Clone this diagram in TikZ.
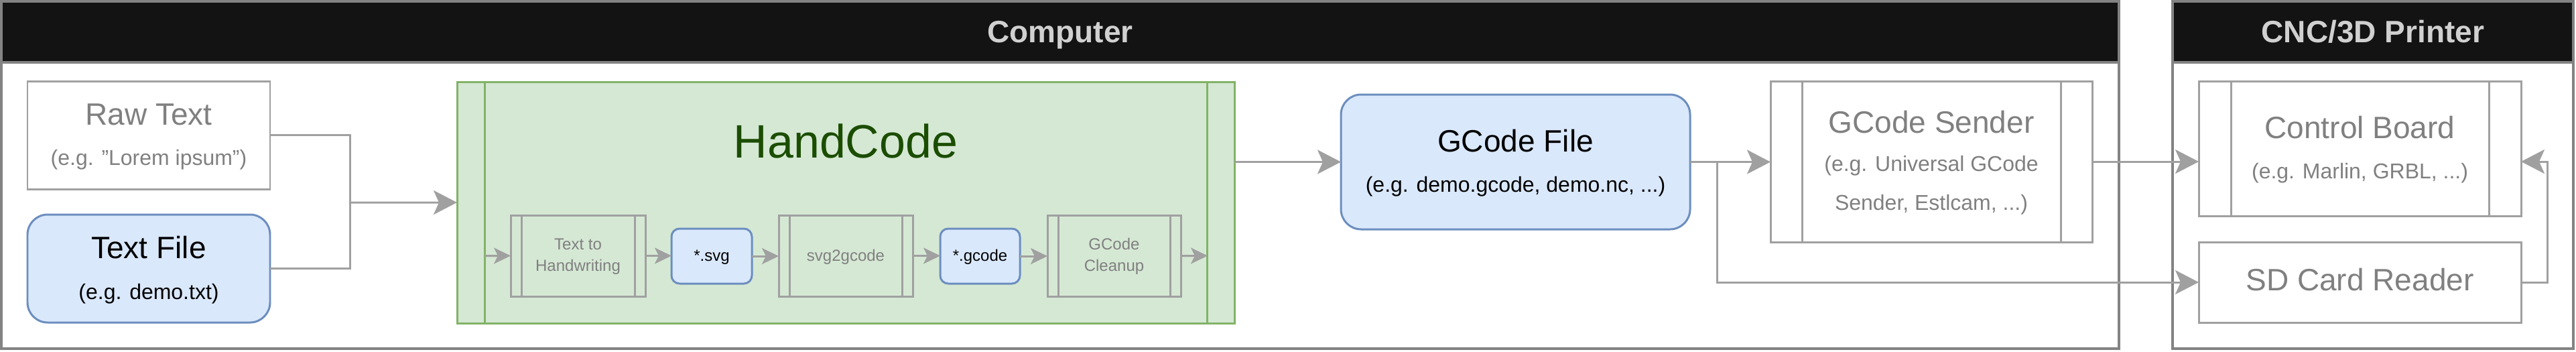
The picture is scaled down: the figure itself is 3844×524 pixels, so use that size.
\documentclass[tikz,border=0pt]{standalone}
\usepackage{fontspec}
\setmainfont{Liberation Sans}
\usetikzlibrary{arrows.meta,calc}
\definecolor{boxgray}{HTML}{A0A0A0}
\definecolor{txtgray}{HTML}{808080}
\definecolor{framegray}{HTML}{838383}
\definecolor{hdrfill}{HTML}{131313}
\definecolor{hdrtext}{HTML}{D0D0D0}
\definecolor{bfill}{HTML}{DAE8FC}
\definecolor{bstroke}{HTML}{6C8EBF}
\definecolor{gfill}{HTML}{D5E8D4}
\definecolor{gstroke}{HTML}{82B366}
\definecolor{hgreen}{HTML}{1B4D00}
\newcommand\fsBig{\fontsize{13.1pt}{15.7pt}\selectfont}
\newcommand\fsSub{\fontsize{9.1pt}{11pt}\selectfont}
\newcommand\fsHand{\fontsize{19.9pt}{23pt}\selectfont}
\newcommand\fsSmall{\fontsize{6.83pt}{8.5pt}\selectfont}
\newcommand\procbars[2]{%
  \draw[boxline] ([xshift=#2]#1.north west) -- ([xshift=#2]#1.south west);
  \draw[boxline] ([xshift=-#2]#1.north east) -- ([xshift=-#2]#1.south east);}
\begin{document}
\begin{tikzpicture}[x=0.1mm,y=-0.1mm,
  frame/.style={draw=framegray, line width=1.14pt, fill=white, inner sep=0pt, outer sep=0pt, anchor=north west},
  header/.style={draw=framegray, line width=1.14pt, fill=hdrfill, inner sep=0pt, outer sep=0pt, anchor=north west},
  hdrtxt/.style={text=hdrtext, font=\fsBig\bfseries, inner sep=0pt, anchor=base},
  boxline/.style={draw=boxgray, line width=0.85pt},
  gbox/.style={boxline, fill=white, inner sep=0pt, outer sep=0pt, anchor=north west},
  pbox/.style={boxline, inner sep=0pt, outer sep=0pt, anchor=north west},
  bbox/.style={draw=bstroke, fill=bfill, line width=0.85pt, inner sep=0pt, outer sep=0pt, anchor=north west},
  hbox/.style={draw=gstroke, fill=gfill, line width=0.85pt, inner sep=0pt, outer sep=0pt, anchor=north west},
  tbig/.style={font=\fsBig, inner sep=0pt, anchor=base},
  tsub/.style={font=\fsSub, inner sep=0pt, anchor=base},
  tsmall/.style={font=\fsSmall, inner sep=0pt, anchor=base},
  conn/.style={draw=boxgray, line width=0.85pt},
  arr/.style={conn, -{Stealth[length=3.5mm, width=3.6mm, inset=0.8mm]}},
  sarr/.style={conn, -{Stealth[length=2.5mm, width=2.4mm, inset=0.6mm]}}]
\useasboundingbox (0,0) rectangle (3844,524);

% containers
\node[frame, minimum width=316mm, minimum height=51.8mm] (comp) at (2,2) {};
\node[header, minimum width=316mm, minimum height=9.1mm] (comphdr) at (2,2) {};
\node[hdrtxt] (comptxt) at (1582,63.5) {Computer};
\node[frame, minimum width=59.8mm, minimum height=51.8mm] (cnc) at (3242,2) {};
\node[header, minimum width=59.8mm, minimum height=9.1mm] (cnchdr) at (3242,2) {};
\node[hdrtxt] (cnctxt) at (3541,63.5) {CNC/3D Printer};

% inputs
\node[gbox, minimum width=36.2mm, minimum height=16.1mm] (raw) at (41,121) {};
\node[tbig, text=txtgray] (rawt) at (222,186.5) {Raw Text};
\node[tsub, text=txtgray] (raws) at (222,246) {(e.g. "Lorem ipsum")};
\node[bbox, rounded corners=3mm, minimum width=36.2mm, minimum height=16.1mm] (txt) at (41,320) {};
\node[tbig] (txtt) at (222,385.5) {Text File};
\node[tsub] (txts) at (222,446) {(e.g. demo.txt)};

% HandCode
\node[hbox, minimum width=116mm, minimum height=36mm] (hc) at (682,122) {};
\draw[draw=gstroke, line width=0.85pt] ([xshift=4.1mm]hc.north west) -- ([xshift=4.1mm]hc.south west);
\draw[draw=gstroke, line width=0.85pt] ([xshift=-4.1mm]hc.north east) -- ([xshift=-4.1mm]hc.south east);
\node[font=\fsHand, text=hgreen, inner sep=0pt, anchor=base] (hct) at (1262,235) {HandCode};

\node[pbox, minimum width=20.1mm, minimum height=12.1mm] (t2h) at (762,321) {};
\procbars{t2h}{1.6mm}
\node[tsmall, text=txtgray] (t2ha) at (862.5,372) {Text to};
\node[tsmall, text=txtgray] (t2hb) at (862.5,404) {Handwriting};

\node[bbox, rounded corners=1.2mm, minimum width=12mm, minimum height=8.2mm] (svg) at (1002,341) {};
\node[tsmall] (svgt) at (1062,389) {*.svg};

\node[pbox, minimum width=20mm, minimum height=12.1mm] (s2g) at (1162,321) {};
\procbars{s2g}{1.6mm}
\node[tsmall, text=txtgray] (s2gt) at (1262,389) {svg2gcode};

\node[bbox, rounded corners=1.2mm, minimum width=11.9mm, minimum height=8.2mm] (gc) at (1403,341) {};
\node[tsmall] (gct) at (1462.5,389) {*.gcode};

\node[pbox, minimum width=19.9mm, minimum height=12.1mm] (cl) at (1563,321) {};
\procbars{cl}{1.6mm}
\node[tsmall, text=txtgray] (cla) at (1662.5,372) {GCode};
\node[tsmall, text=txtgray] (clb) at (1662.5,404) {Cleanup};

\coordinate (hcL) at (723,381.5);
\coordinate (hcR) at (1802,381.5);

% GCode file
\node[bbox, rounded corners=3mm, minimum width=52.1mm, minimum height=20.1mm] (gf) at (2001,141) {};
\node[tbig] (gft) at (2261.5,226.5) {GCode File};
\node[tsub] (gfs) at (2261.5,286) {(e.g. demo.gcode, demo.nc, ...)};

% GCode sender
\node[gbox, minimum width=48mm, minimum height=24mm] (gs) at (2642,121) {};
\procbars{gs}{4.7mm}
\node[tbig, text=txtgray] (gst) at (2882,198.5) {GCode Sender};
\node[tsub, text=txtgray] (gsa) at (2882,255) {(e.g. Universal GCode};
\node[tsub, text=txtgray] (gsb) at (2882,313) {Sender, Estlcam, ...)};

% printer
\node[gbox, minimum width=48.1mm, minimum height=20.1mm] (cb) at (3281,121) {};
\procbars{cb}{4.8mm}
\node[tbig, text=txtgray] (cbt) at (3521.5,206.5) {Control Board};
\node[tsub, text=txtgray] (cbs) at (3521.5,266) {(e.g. Marlin, GRBL, ...)};
\node[gbox, minimum width=48.1mm, minimum height=12mm] (sd) at (3281,361) {};
\node[tbig, text=txtgray] (sdt) at (3521.5,433.5) {SD Card Reader};

% connectors
\coordinate (jn) at (522,302);
\draw[conn] (raw.east) -| (jn);
\draw[conn] (txt.east) -| (jn);
\draw[arr] (jn) -- (hc.west);

\draw[sarr] (hcL) -- (t2h.west);
\draw[sarr] (t2h.east) -- (t2h.east -| svg.west);
\draw[sarr] (svg.east) -- (svg.east -| s2g.west);
\draw[sarr] (s2g.east) -- (s2g.east -| gc.west);
\draw[sarr] (gc.east) -- (gc.east -| cl.west);
\draw[sarr] (cl.east) -- (hcR);

\draw[arr] (gf.west -| hc.east) -- (gf.west);
\draw[arr] (gf.east) -- (gf.east -| gs.west);
\coordinate (br) at (2562,241.5);
\draw[arr] (br) |- (sd.west);
\draw[arr] (gs.east) -- (gs.east -| cb.west);
\coordinate (fb) at (3801,241);
\draw[arr] (sd.east) -| (fb) -- (fb -| cb.east);
\end{tikzpicture}
\end{document}
